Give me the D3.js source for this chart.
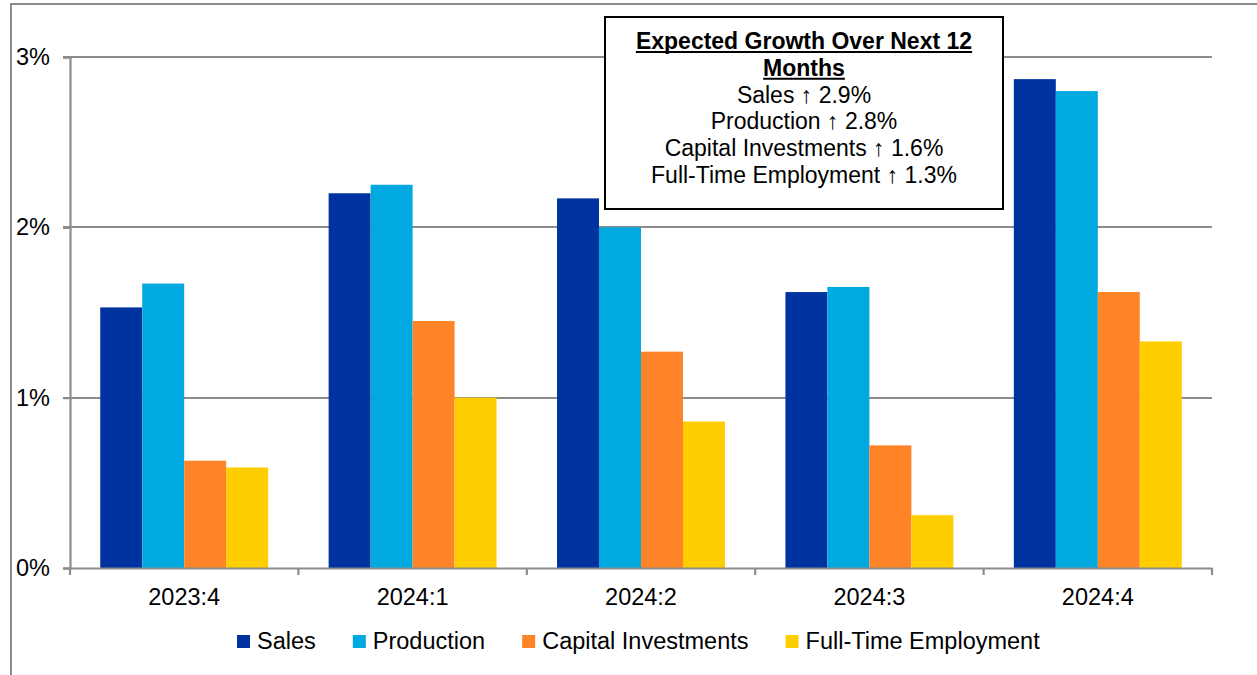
<!DOCTYPE html>
<html>
<head>
<meta charset="utf-8">
<script src="https://cdn.jsdelivr.net/npm/d3@7"></script>
<style>
  html, body { margin: 0; padding: 0; background: #fff; }
  svg { display: block; font-family: "Liberation Sans", Arial, sans-serif; }
</style>
</head>
<body>
<svg id="chart" width="1257" height="675"></svg>
<script>
// Quarterly survey results: expected growth over the next 12 months (%)
const categories = ["2023:4", "2024:1", "2024:2", "2024:3", "2024:4"];
const seriesNames = ["Sales", "Production", "Capital Investments", "Full-Time Employment"];
const sales = [1.53, 2.20, 2.17, 1.62, 2.87];
const production = [1.67, 2.25, 2.00, 1.65, 2.80];
const capitalInvestments = [0.63, 1.45, 1.27, 0.72, 1.62];
const fullTimeEmployment = [0.59, 1.00, 0.86, 0.31, 1.33];
const yTicks = [0, 1, 2, 3];
const colors = ["#0033A0", "#00AAE0", "#FF8427", "#FFCE00"];

const seriesValues = [sales, production, capitalInvestments, fullTimeEmployment];

const svg = d3.select("#chart");
const FS = 23.5;      // axis and legend text
const BOX_FS = 23;    // annotation box text

// Outer chart-area frame
svg.append("path")
  .attr("d", "M11,675 L11,4 L1257,4")
  .attr("fill", "none")
  .attr("stroke", "#8c8c8c")
  .attr("stroke-width", 2);

const plot = { left: 70, right: 1212, top: 57, bottom: 568 };

const y = d3.scaleLinear().domain([0, 3]).range([plot.bottom, plot.top]);
const x0 = d3.scaleBand().domain(categories).range([plot.left, plot.right]).padding(0);
const x1 = d3.scaleBand().domain(seriesNames).range([0, x0.bandwidth()])
  .paddingInner(0).paddingOuter(0.72);

// Horizontal gridlines
svg.append("g")
  .selectAll("line")
  .data(yTicks.filter(d => d > 0))
  .join("line")
  .attr("x1", plot.left - 7)
  .attr("x2", plot.right)
  .attr("y1", d => Math.round(y(d)))
  .attr("y2", d => Math.round(y(d)))
  .attr("stroke", "#8c8c8c")
  .attr("stroke-width", 2.2);

// Bars
const groups = svg.append("g")
  .selectAll("g")
  .data(categories)
  .join("g")
  .attr("transform", d => `translate(${x0(d)},0)`);

groups.selectAll("rect")
  .data((c, i) => seriesNames.map((s, j) => ({ s, j, v: seriesValues[j][i] })))
  .join("rect")
  .attr("x", d => x1(d.s))
  .attr("width", x1.bandwidth())
  .attr("y", d => y(d.v))
  .attr("height", d => y(0) - y(d.v))
  .attr("fill", d => colors[d.j]);

// Y axis
const yAxis = d3.axisLeft(y)
  .tickValues(yTicks)
  .tickFormat(d => d + "%")
  .tickSize(7)
  .tickPadding(13);
const gy = svg.append("g")
  .attr("transform", `translate(${plot.left},0)`)
  .call(yAxis);
gy.select(".domain").attr("stroke", "#8c8c8c").attr("stroke-width", 2.2);
gy.selectAll(".tick line").attr("stroke", "#8c8c8c").attr("stroke-width", 2.2);
gy.selectAll(".tick text")
  .attr("font-size", FS)
  .attr("font-family", "Liberation Sans, Arial, sans-serif")
  .attr("fill", "#000");

// X axis: baseline with ticks at category boundaries
const xAxis = d3.axisBottom(x0).tickSize(0).tickPadding(20);
const gx = svg.append("g")
  .attr("transform", `translate(0,${plot.bottom})`)
  .call(xAxis);
gx.select(".domain").attr("stroke", "#8c8c8c").attr("stroke-width", 2.2);
gx.selectAll(".tick text")
  .attr("font-size", FS)
  .attr("font-family", "Liberation Sans, Arial, sans-serif")
  .attr("fill", "#000");
const boundaries = categories.map(c => x0(c)).concat([x0.range()[1]]);
gx.append("g").selectAll("line")
  .data(boundaries)
  .join("line")
  .attr("x1", d => d).attr("x2", d => d)
  .attr("y1", 0).attr("y2", 7)
  .attr("stroke", "#8c8c8c")
  .attr("stroke-width", 2.2);

// Legend
const legend = svg.append("g").attr("transform", "translate(237,0)");
let lx = 0;
seriesNames.forEach((name, j) => {
  const item = legend.append("g").attr("transform", `translate(${lx},0)`);
  item.append("rect")
    .attr("x", 0).attr("y", 635)
    .attr("width", 13).attr("height", 13)
    .attr("fill", colors[j]);
  const t = item.append("text")
    .attr("x", 20).attr("y", 649)
    .attr("font-size", FS)
    .attr("fill", "#000")
    .text(name);
  lx += 20 + t.node().getComputedTextLength() + 37;
});

// Annotation box: expected growth for the latest quarter
const fmt = d3.format(".1f");
const last = categories.length - 1;
const box = { x: 605, y: 17, w: 398, h: 192 };
svg.append("rect")
  .attr("x", box.x).attr("y", box.y)
  .attr("width", box.w).attr("height", box.h)
  .attr("fill", "#fff")
  .attr("stroke", "#000")
  .attr("stroke-width", 2);

const cx = box.x + box.w / 2;
const headLines = ["Expected Growth Over Next 12", "Months"];
const lineH = 26.8;
const base0 = 49;

headLines.forEach((s, i) => {
  const t = svg.append("text")
    .attr("x", cx).attr("y", base0 + i * lineH)
    .attr("text-anchor", "middle")
    .attr("font-size", BOX_FS)
    .attr("font-weight", "bold")
    .attr("fill", "#000")
    .text(s);
  const w = t.node().getComputedTextLength();
  svg.append("line")
    .attr("x1", cx - w / 2).attr("x2", cx + w / 2)
    .attr("y1", base0 + i * lineH + 3).attr("y2", base0 + i * lineH + 3)
    .attr("stroke", "#000").attr("stroke-width", 2);
});

seriesNames.forEach((n, j) => {
  svg.append("text")
    .attr("x", cx).attr("y", base0 + (j + 2) * lineH)
    .attr("text-anchor", "middle")
    .attr("font-size", BOX_FS)
    .attr("fill", "#000")
    .text(`${n} \u2191 ${fmt(seriesValues[j][last])}%`);
});
</script>
</body>
</html>
